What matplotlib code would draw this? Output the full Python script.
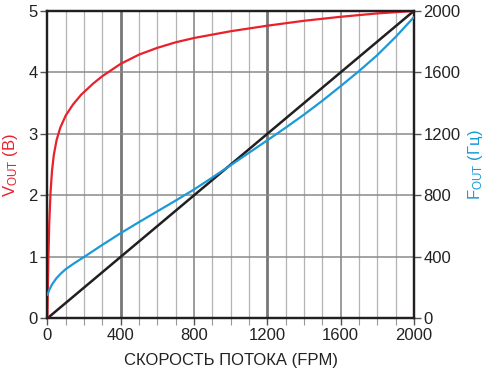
import matplotlib
matplotlib.use("Agg")
import matplotlib.pyplot as plt

plt.rcParams['font.family'] = ['Liberation Sans', 'DejaVu Sans']
plt.rcParams['mathtext.fontset'] = 'custom'
plt.rcParams['mathtext.rm'] = 'Liberation Sans'
plt.rcParams['mathtext.it'] = 'Liberation Sans'

# Data
flow = [0, 2000]
ideal_v = [0, 5]

red_x = [0, 2, 5, 10, 17, 25, 35, 50, 70, 100, 140, 185, 250, 300, 400, 500,
         600, 700, 800, 1000, 1200, 1400, 1600, 1800, 2000]
red_v = [0, 0.45, 0.95, 1.55, 2.05, 2.40, 2.66, 2.90, 3.10, 3.30, 3.48, 3.64, 3.82,
         3.94, 4.14, 4.29, 4.40, 4.49, 4.56, 4.67, 4.76, 4.84, 4.905, 4.96, 5.0]

blue_x = [0, 10, 25, 50, 75, 100, 150, 200, 300, 400, 500, 600, 700, 800, 900, 1000,
          1100, 1200, 1300, 1400, 1500, 1600, 1700, 1800, 1900, 2000]
blue_f = [153, 185, 220, 262, 293, 320, 361, 399, 478, 554, 626, 696, 766, 838, 916, 996,
          1077, 1158, 1240, 1325, 1415, 1510, 1608, 1712, 1830, 1959]

xticks = [0, 400, 800, 1200, 1600, 2000]
yticks_left = [0, 1, 2, 3, 4, 5]
yticks_right = [0, 400, 800, 1200, 1600, 2000]

RED = '#e8212b'
BLUE = '#1b9ad7'
BLACK = '#231f20'

fig = plt.figure(figsize=(4.84, 3.78), dpi=100)
ax = fig.add_axes([0.098, 0.158, 0.757, 0.813])
ax2 = ax.twinx()

ax.set_xlim(0, 2000)
ax.set_ylim(0, 5)
ax2.set_ylim(0, 2000)

# grid
for x in range(100, 2000, 100):
    if x in (400, 1200):
        ax.axvline(x, color='#777777', lw=2.0, zorder=1)
    elif x in (800, 1600):
        ax.axvline(x, color='#8a8a8a', lw=1.2, zorder=1)
    else:
        ax.axvline(x, color='#b3b3b3', lw=0.9, zorder=1)
for y in range(1, 5):
    ax.axhline(y, color='#8a8a8a', lw=1.1, zorder=1)

ax.plot(flow, ideal_v, color=BLACK, lw=1.8, zorder=3)
ax.plot(red_x, red_v, color=RED, lw=1.6, zorder=4, solid_joinstyle='round')
ax2.plot(blue_x, blue_f, color=BLUE, lw=1.6, zorder=4, solid_joinstyle='round')

ax.set_xticks(xticks)
ax.set_xticks(range(0, 2001, 100), minor=True)
ax.set_yticks(yticks_left)
ax2.set_yticks(yticks_right)

for a in (ax, ax2):
    for s in a.spines.values():
        s.set_color(BLACK)
        s.set_linewidth(1.6)

ax.tick_params(axis='x', which='major', length=5, width=1, color='#555555', labelsize=12, labelcolor='#222222', pad=2)
ax.tick_params(axis='x', which='minor', length=5, width=0.8, color='#999999')
ax.tick_params(axis='y', length=5, width=1, color='#555555', labelsize=12, labelcolor='#222222', pad=2)
ax2.tick_params(axis='y', length=5, width=1, color='#555555', labelsize=12, labelcolor='#222222', pad=2)

ax.set_xlabel('СКОРОСТЬ ПОТОКА (FPM)', fontsize=12, color='#222222', labelpad=7)
ax.set_ylabel(r'V$_{\mathrm{OUT}}$ (В)', fontsize=12, color=RED, labelpad=6)
ax2.set_ylabel(r'F$_{\mathrm{OUT}}$ (Гц)', fontsize=12, color=BLUE, labelpad=4)

fig.savefig('out.png', dpi=100)
